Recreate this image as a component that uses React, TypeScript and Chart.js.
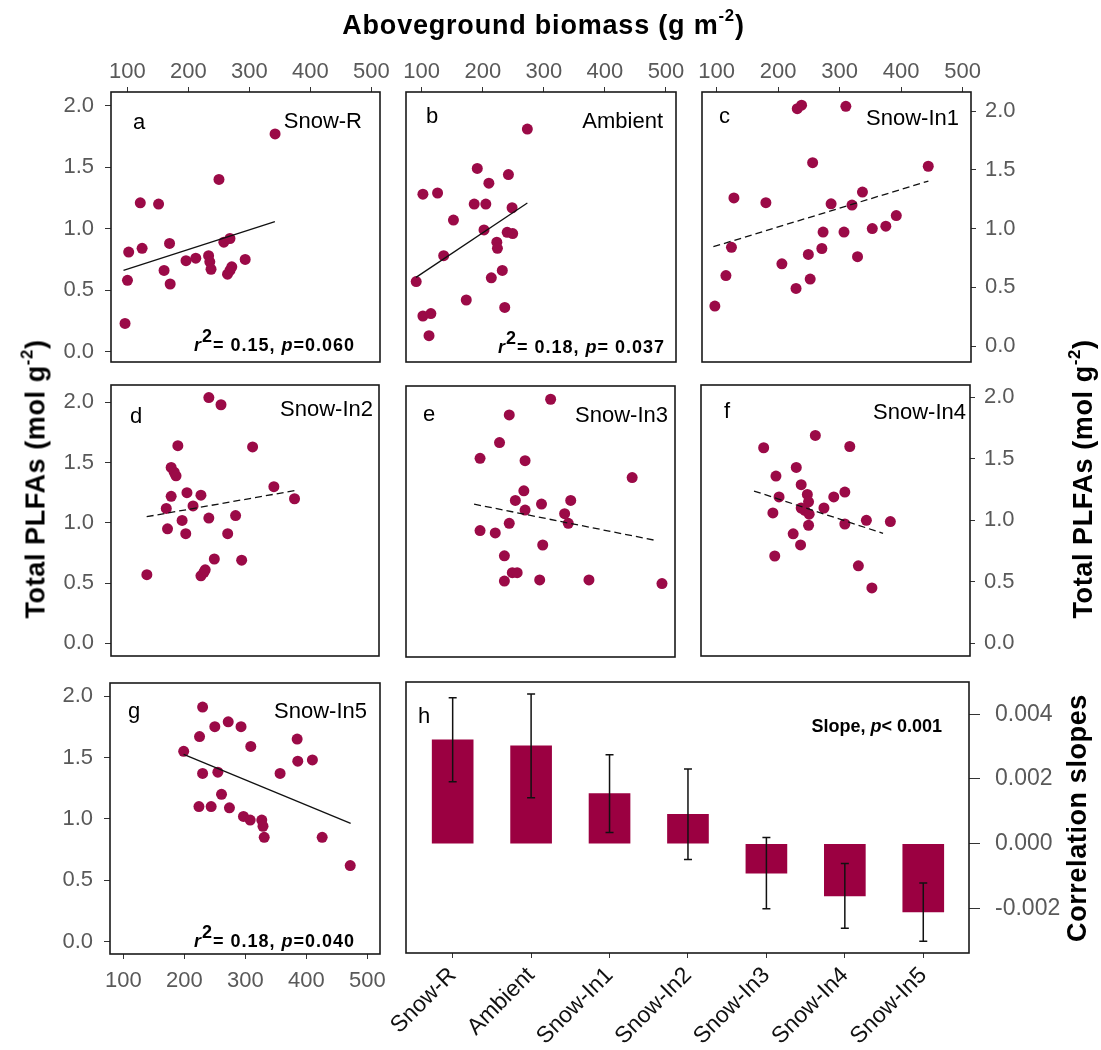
import React, { useEffect, useRef } from 'react';
import { Chart, registerables } from 'chart.js';

Chart.register(...registerables);

const W = 1101;
const H = 1050;
const FONT = "'Liberation Sans', Arial, Helvetica, sans-serif";
const POINT_COLOR = '#9b0a47';
const BAR_COLOR = '#9b0041';
const TICK_TEXT = '#595959';

// ---------------- data ----------------
const biomassTicks = [100, 200, 300, 400, 500];
const plfaTicks = [0, 0.5, 1.0, 1.5, 2.0];
const slopeTicks = [-0.002, 0, 0.002, 0.004];
const treatments = ['Snow-R', 'Ambient', 'Snow-In1', 'Snow-In2', 'Snow-In3', 'Snow-In4', 'Snow-In5'];

const snowRBiomass = [342, 250, 121, 151, 102, 124, 169, 100, 96, 160, 170, 196, 212, 233, 235, 237, 258, 268, 264, 268, 271, 293];
const snowRPlfa = [1.77, 1.40, 1.21, 1.20, 0.81, 0.84, 0.88, 0.58, 0.23, 0.66, 0.55, 0.74, 0.76, 0.78, 0.73, 0.67, 0.89, 0.92, 0.63, 0.66, 0.69, 0.75];

const ambientBiomass = [273, 191, 242, 210, 102, 126, 186, 205, 248, 152, 202, 240, 249, 223, 224, 136, 232, 214, 91, 173, 102, 115, 236, 112];
const ambientPlfa = [1.81, 1.49, 1.44, 1.37, 1.28, 1.29, 1.20, 1.20, 1.17, 1.07, 0.99, 0.97, 0.96, 0.89, 0.84, 0.78, 0.66, 0.60, 0.57, 0.42, 0.29, 0.31, 0.36, 0.13];

const in1Biomass = [231, 238, 310, 256, 444, 337, 128, 180, 286, 320, 392, 375, 353, 273, 307, 271, 124, 249, 206, 329, 115, 252, 229, 97];
const in1Plfa = [2.02, 2.05, 2.04, 1.56, 1.53, 1.31, 1.26, 1.22, 1.21, 1.20, 1.11, 1.02, 1.00, 0.97, 0.97, 0.83, 0.84, 0.78, 0.70, 0.76, 0.60, 0.57, 0.49, 0.34];

const in2Biomass = [234, 254, 183, 306, 172, 177, 180, 341, 198, 221, 172, 375, 164, 208, 278, 234, 190, 166, 196, 265, 243, 288, 221, 226, 228, 132];
const in2Plfa = [2.04, 1.98, 1.64, 1.63, 1.46, 1.42, 1.39, 1.30, 1.25, 1.23, 1.22, 1.20, 1.12, 1.14, 1.06, 1.04, 1.02, 0.95, 0.91, 0.91, 0.70, 0.69, 0.56, 0.59, 0.61, 0.57];

const in3Biomass = [312, 244, 228, 196, 270, 446, 268, 254, 345, 297, 270, 335, 341, 244, 196, 221, 299, 236, 249, 257, 236, 294, 375, 495];
const in3Plfa = [2.03, 1.90, 1.67, 1.54, 1.52, 1.38, 1.27, 1.19, 1.19, 1.16, 1.11, 1.08, 1.00, 1.00, 0.94, 0.92, 0.82, 0.73, 0.59, 0.59, 0.52, 0.53, 0.53, 0.50];

const in4Biomass = [262, 178, 318, 231, 198, 239, 249, 203, 310, 292, 251, 276, 239, 245, 252, 193, 345, 384, 310, 251, 226, 238, 196, 332, 354];
const in4Plfa = [1.69, 1.59, 1.60, 1.43, 1.36, 1.29, 1.21, 1.19, 1.23, 1.19, 1.15, 1.10, 1.10, 1.08, 1.05, 1.06, 1.00, 0.99, 0.97, 0.96, 0.89, 0.80, 0.71, 0.63, 0.45];

const in5Biomass = [230, 272, 250, 293, 225, 385, 309, 199, 386, 410, 230, 255, 357, 261, 224, 244, 274, 297, 308, 327, 329, 331, 426, 472];
const in5Plfa = [1.91, 1.79, 1.75, 1.75, 1.67, 1.65, 1.59, 1.55, 1.47, 1.48, 1.37, 1.38, 1.37, 1.20, 1.10, 1.10, 1.09, 1.02, 0.99, 0.99, 0.94, 0.85, 0.85, 0.62];

// fitted regression line end points [biomass, plfa]
const fitSnowR = [[93.5, 0.661], [341.7, 1.057]];
const fitAmbient = [[90.7, 0.604], [273, 1.209]];
const fitIn1 = [[94.6, 0.845], [444.2, 1.404]];
const fitIn2 = [[131.7, 1.051], [375, 1.267]];
const fitIn3 = [[186.2, 1.159], [487.4, 0.855]];
const fitIn4 = [[162.3, 1.238], [372.1, 0.894]];
const fitIn5 = [[198.9, 1.525], [472.7, 0.963]];

// panel h: correlation slopes and their errors
const slopes = [0.00321, 0.00302, 0.00155, 0.00091, -0.00091, -0.00161, -0.00211];
const slopeErrors = [0.0013, 0.0016, 0.0012, 0.0014, 0.0011, 0.0010, 0.0009];

// ---------------- layout ----------------
const AXIS_Y_W = 60;
const AXIS_X_H = 50;

const scatterPanels = [
  { letter: 'a', name: treatments[0], biomass: snowRBiomass, plfa: snowRPlfa, fit: fitSnowR, dashed: false,
    stats: { r2: '0.15', p: '=0.060' }, statsPos: [25, 11],
    box: [111, 92, 380, 362], xr: [73, 514], yr: [-0.084, 2.111], xAxis: 'top', yAxis: 'left',
    letterPos: [22, 37], namePos: [18, 36] },
  { letter: 'b', name: treatments[1], biomass: ambientBiomass, plfa: ambientPlfa, fit: fitAmbient, dashed: false,
    stats: { r2: '0.18', p: '= 0.037' }, statsPos: [11, 9],
    box: [406, 92, 676, 362], xr: [74.3, 516.4], yr: [-0.084, 2.111], xAxis: 'top', yAxis: null,
    letterPos: [20, 31], namePos: [13, 36] },
  { letter: 'c', name: treatments[2], biomass: in1Biomass, plfa: in1Plfa, fit: fitIn1, dashed: true,
    stats: null, statsPos: [0, 0],
    box: [702, 92, 971, 362], xr: [76.1, 513.5], yr: [-0.136, 2.162], xAxis: 'top', yAxis: 'right',
    letterPos: [17, 31], namePos: [12, 33] },
  { letter: 'd', name: treatments[3], biomass: in2Biomass, plfa: in2Plfa, fit: fitIn2, dashed: true,
    stats: null, statsPos: [0, 0],
    box: [111, 385, 379, 656], xr: [73, 514], yr: [-0.105, 2.144], xAxis: null, yAxis: 'left',
    letterPos: [19, 38], namePos: [6, 31] },
  { letter: 'e', name: treatments[4], biomass: in3Biomass, plfa: in3Plfa, fit: fitIn3, dashed: true,
    stats: null, statsPos: [0, 0],
    box: [406, 386, 675, 657], xr: [74.3, 516.4], yr: [-0.11, 2.14], xAxis: null, yAxis: null,
    letterPos: [17, 35], namePos: [7, 36] },
  { letter: 'f', name: treatments[5], biomass: in4Biomass, plfa: in4Plfa, fit: fitIn4, dashed: true,
    stats: null, statsPos: [0, 0],
    box: [701, 385, 970, 656], xr: [76.1, 513.5], yr: [-0.103, 2.1], xAxis: null, yAxis: 'right',
    letterPos: [23, 33], namePos: [4, 34] },
  { letter: 'g', name: treatments[6], biomass: in5Biomass, plfa: in5Plfa, fit: fitIn5, dashed: false,
    stats: { r2: '0.18', p: '=0.040' }, statsPos: [25, 7],
    box: [110, 683, 380, 954], xr: [78.2, 520.8], yr: [-0.1, 2.106], xAxis: 'bottom', yAxis: 'left',
    letterPos: [18, 35], namePos: [13, 35] },
];

const slopeBox = [406, 682, 969, 953];
const SLOPE_Y_W = 100;
const SLOPE_X_H = 95;

function paddingFor(box, xAxis, yAxis, yW, xH) {
  const [l, t, r, b] = box;
  return {
    left: l - (yAxis === 'left' ? yW : 0),
    right: W - r - (yAxis === 'right' ? yW : 0),
    top: t - (xAxis === 'top' ? xH : 0),
    bottom: H - b - (xAxis === 'bottom' ? xH : 0),
  };
}

function drawRich(ctx, segs, xRight, baseline, size, spacing) {
  const fontFor = (s) => `${s.italic ? 'italic ' : ''}bold ${size}px ${FONT}`;
  try { ctx.letterSpacing = spacing + 'px'; } catch (e) { /* ignore */ }
  let total = 0;
  for (const s of segs) { ctx.font = fontFor(s); total += ctx.measureText(s.text).width; }
  let x = xRight - total;
  ctx.textAlign = 'left';
  ctx.textBaseline = 'alphabetic';
  ctx.fillStyle = '#000';
  for (const s of segs) {
    ctx.font = fontFor(s);
    ctx.fillText(s.text, x, baseline - (s.sup ? size * 0.52 : 0));
    x += ctx.measureText(s.text).width;
  }
  try { ctx.letterSpacing = '0px'; } catch (e) { /* ignore */ }
}

function tickGrid(len) {
  return { display: true, drawOnChartArea: false, drawTicks: true, tickLength: len, color: '#333', lineWidth: 1, offset: false };
}

function buildScatterConfig(p) {
  const decor = {
    id: 'decor_' + p.letter,
    afterDraw(chart) {
      const { ctx, chartArea: ca } = chart;
      ctx.save();
      ctx.strokeStyle = '#1a1a1a';
      ctx.lineWidth = 1.6;
      ctx.strokeRect(ca.left, ca.top, ca.right - ca.left, ca.bottom - ca.top);
      ctx.fillStyle = '#000';
      ctx.font = `22px ${FONT}`;
      ctx.textBaseline = 'alphabetic';
      ctx.textAlign = 'left';
      ctx.fillText(p.letter, ca.left + p.letterPos[0], ca.top + p.letterPos[1]);
      ctx.textAlign = 'right';
      ctx.fillText(p.name, ca.right - p.namePos[0], ca.top + p.namePos[1]);
      if (p.stats) {
        drawRich(ctx, [
          { text: 'r', italic: true },
          { text: '2', sup: true },
          { text: '= ' + p.stats.r2 + ', ' },
          { text: 'p', italic: true },
          { text: p.stats.p },
        ], ca.right - p.statsPos[0], ca.bottom - p.statsPos[1], 18, 1);
      }
      ctx.restore();
    },
  };

  return {
    type: 'scatter',
    data: {
      datasets: [
        {
          type: 'line',
          data: p.fit.map(([x, y]) => ({ x, y })),
          borderColor: '#111',
          borderWidth: 1.3,
          borderDash: p.dashed ? [7, 4] : [],
          pointRadius: 0,
          fill: false,
          tension: 0,
          order: 0,
        },
        {
          type: 'scatter',
          data: p.biomass.map((x, i) => ({ x, y: p.plfa[i] })),
          backgroundColor: POINT_COLOR,
          borderWidth: 0,
          pointRadius: 5.5,
          order: 1,
        },
      ],
    },
    options: {
      animation: false,
      responsive: false,
      events: [],
      layout: { padding: paddingFor(p.box, p.xAxis, p.yAxis, AXIS_Y_W, AXIS_X_H) },
      plugins: { legend: { display: false }, tooltip: { enabled: false } },
      scales: {
        x: {
          type: 'linear',
          min: p.xr[0],
          max: p.xr[1],
          display: !!p.xAxis,
          position: p.xAxis || 'bottom',
          afterBuildTicks: (s) => { s.ticks = biomassTicks.map((v) => ({ value: v })); },
          afterFit: (s) => { s.height = p.xAxis ? AXIS_X_H : 0; },
          grid: tickGrid(5),
          border: { display: false },
          ticks: {
            color: TICK_TEXT,
            font: { family: FONT, size: 22 },
            padding: p.xAxis === 'top' ? 2 : 9,
            maxRotation: 0,
            minRotation: 0,
            autoSkip: false,
            callback: (v) => String(v),
          },
        },
        y: {
          type: 'linear',
          min: p.yr[0],
          max: p.yr[1],
          display: !!p.yAxis,
          position: p.yAxis || 'left',
          afterBuildTicks: (s) => { s.ticks = plfaTicks.map((v) => ({ value: v })); },
          afterFit: (s) => { s.width = p.yAxis ? AXIS_Y_W : 0; },
          grid: tickGrid(p.yAxis === 'left' ? 6 : 5),
          border: { display: false },
          ticks: {
            color: TICK_TEXT,
            font: { family: FONT, size: 22 },
            padding: p.yAxis === 'left' ? 11 : 9,
            callback: (v) => Number(v).toFixed(1),
          },
        },
      },
    },
    plugins: [decor],
  };
}

function buildSlopeConfig() {
  const decor = {
    id: 'decor_h',
    afterDatasetsDraw(chart) {
      const { ctx, scales } = chart;
      const xs = scales.x;
      const ys = scales.y;
      ctx.save();
      ctx.strokeStyle = '#111';
      ctx.lineWidth = 1.5;
      slopes.forEach((v, i) => {
        const x = xs.getPixelForValue(i + 1);
        const y1 = ys.getPixelForValue(v + slopeErrors[i]);
        const y2 = ys.getPixelForValue(v - slopeErrors[i]);
        ctx.beginPath();
        ctx.moveTo(x, y1); ctx.lineTo(x, y2);
        ctx.moveTo(x - 4, y1); ctx.lineTo(x + 4, y1);
        ctx.moveTo(x - 4, y2); ctx.lineTo(x + 4, y2);
        ctx.stroke();
      });
      ctx.restore();
    },
    afterDraw(chart) {
      const { ctx, chartArea: ca } = chart;
      ctx.save();
      ctx.strokeStyle = '#1a1a1a';
      ctx.lineWidth = 1.6;
      ctx.strokeRect(ca.left, ca.top, ca.right - ca.left, ca.bottom - ca.top);
      ctx.fillStyle = '#000';
      ctx.font = `22px ${FONT}`;
      ctx.textAlign = 'left';
      ctx.textBaseline = 'alphabetic';
      ctx.fillText('h', ca.left + 12, ca.top + 41);
      drawRich(ctx, [
        { text: 'Slope, ' },
        { text: 'p', italic: true },
        { text: '< 0.001' },
      ], ca.right - 27, ca.top + 50, 18, 0);
      ctx.restore();
    },
  };

  return {
    type: 'bar',
    data: {
      datasets: [
        {
          data: slopes.map((v, i) => ({ x: i + 1, y: v })),
          backgroundColor: BAR_COLOR,
          borderWidth: 0,
          barThickness: 41,
        },
      ],
    },
    options: {
      animation: false,
      responsive: false,
      events: [],
      layout: { padding: paddingFor(slopeBox, 'bottom', 'right', SLOPE_Y_W, SLOPE_X_H) },
      plugins: { legend: { display: false }, tooltip: { enabled: false } },
      scales: {
        x: {
          type: 'linear',
          min: 0.405,
          max: 7.583,
          offset: false,
          position: 'bottom',
          afterBuildTicks: (s) => { s.ticks = treatments.map((_, i) => ({ value: i + 1 })); },
          afterFit: (s) => { s.height = SLOPE_X_H; },
          grid: tickGrid(5),
          border: { display: false },
          ticks: {
            color: '#111',
            font: { family: FONT, size: 23 },
            padding: 4,
            minRotation: 45,
            maxRotation: 45,
            autoSkip: false,
            callback: (v) => treatments[Math.round(Number(v)) - 1] || '',
          },
        },
        y: {
          type: 'linear',
          min: -0.003375,
          max: 0.004994,
          position: 'right',
          afterBuildTicks: (s) => { s.ticks = slopeTicks.map((v) => ({ value: v })); },
          afterFit: (s) => { s.width = SLOPE_Y_W; },
          grid: tickGrid(11),
          border: { display: false },
          ticks: {
            color: TICK_TEXT,
            font: { family: FONT, size: 23 },
            padding: 15,
            callback: (v) => Number(v).toFixed(3),
          },
        },
      },
    },
    plugins: [decor],
  };
}

const titleBase: any = {
  position: 'absolute',
  fontFamily: FONT,
  fontWeight: 'bold',
  fontSize: 27,
  lineHeight: 1,
  whiteSpace: 'nowrap',
  color: '#000',
};

const supStyle: any = { fontSize: '0.62em', position: 'relative', top: '-0.72em' };

function Rotated({ cx, cy, children }) {
  return (
    <div style={{ position: 'absolute', left: cx, top: cy, width: 0, height: 0 }}>
      <div style={{ ...titleBase, left: 0, top: 0, letterSpacing: '0.6px', transform: 'translate(-50%, -50%) rotate(-90deg)' }}>
        {children}
      </div>
    </div>
  );
}

export default function App() {
  const refs = useRef<(HTMLCanvasElement | null)[]>([]);

  useEffect(() => {
    const charts: Chart[] = [];
    scatterPanels.forEach((p, i) => {
      const canvas = refs.current[i];
      if (canvas) charts.push(new Chart(canvas, buildScatterConfig(p) as any));
    });
    const hc = refs.current[scatterPanels.length];
    if (hc) charts.push(new Chart(hc, buildSlopeConfig() as any));
    return () => { charts.forEach((c) => c.destroy()); };
  }, []);

  const canvases = [...scatterPanels.map((p) => p.letter), 'h'];

  return (
    <div style={{ position: 'absolute', left: 0, top: 0, width: W, height: H, overflow: 'hidden', background: '#fff' }}>
      {canvases.map((k, i) => (
        <canvas
          key={k}
          ref={(el) => { refs.current[i] = el; }}
          width={W}
          height={H}
          style={{ position: 'absolute', left: 0, top: 0, width: W, height: H }}
        />
      ))}
      <div style={{ ...titleBase, left: 543.5, top: 24.5, letterSpacing: '0.8px', transform: 'translate(-50%, -50%)' }}>
        Aboveground biomass (g m<span style={supStyle}>-2</span>)
      </div>
      <Rotated cx={36} cy={479}>
        Total PLFAs (mol g<span style={supStyle}>-2</span>)
      </Rotated>
      <Rotated cx={1083} cy={479}>
        Total PLFAs (mol g<span style={supStyle}>-2</span>)
      </Rotated>
      <Rotated cx={1077} cy={818}>
        Correlation slopes
      </Rotated>
    </div>
  );
}
